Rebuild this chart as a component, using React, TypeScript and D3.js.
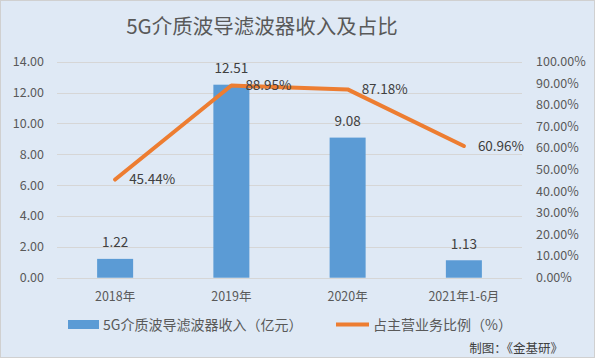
import React from "react";
import * as d3 from "d3";

const categories = ["2018年", "2019年", "2020年", "2021年1-6月"];
const revenue = [1.22, 12.51, 9.08, 1.13];
const share = [45.44, 88.95, 87.18, 60.96];
const leftTicks = [0, 2, 4, 6, 8, 10, 12, 14];
const rightTicks = [0, 10, 20, 30, 40, 50, 60, 70, 80, 90, 100];
const title = "5G介质波导滤波器收入及占比";
const legendBar = "5G介质波导滤波器收入（亿元）";
const legendLine = "占主营业务比例（%）";
const credit = "制图：《金基研》";

const W = 595, H = 358;
const FONT = "'Noto Sans CJK SC', 'Liberation Sans', sans-serif";
const TEXT = "#595959";

export default function App() {
  const x = d3.scaleBand<string>().domain(categories).range([57, 522]).paddingInner(0.69).paddingOuter(0.345);
  const xc = (c: string) => (x(c) as number) + x.bandwidth() / 2;
  const yL = d3.scaleLinear().domain([0, 14]).range([277.7, 61.7]);
  const yR = d3.scaleLinear().domain([0, 100]).range([277.7, 61.7]);
  const line = d3.line<number>().x((_, i) => xc(categories[i])).y((d) => yR(d));
  const bw = 36;

  return (
    <svg width={W} height={H} style={{ position: "fixed", left: 0, top: 0 }} fontFamily={FONT}>
      <rect x={0.5} y={0.5} width={W - 1} height={H - 1} fill="#dfe9f5" stroke="#d0d0d0" />
      <text x={262} y={34} textAnchor="middle" fontSize={20.5} fill={TEXT}>{title}</text>
      {leftTicks.map((t) => (
        <g key={t}>
          <line x1={57} x2={522} y1={Math.round(yL(t)) + 0.5} y2={Math.round(yL(t)) + 0.5} stroke="#d6d6d6" strokeWidth={1} />
          <text x={44} y={yL(t)} dy="0.35em" textAnchor="end" fontSize={12.5} fill={TEXT}>{t.toFixed(2)}</text>
        </g>
      ))}
      {rightTicks.map((t) => (
        <text key={t} x={536} y={yR(t)} dy="0.35em" fontSize={12.5} fill={TEXT}>{t.toFixed(2)}%</text>
      ))}
      {categories.map((c, i) => (
        <g key={c}>
          <rect x={xc(c) - bw / 2} y={yL(revenue[i])} width={bw} height={yL(0) - yL(revenue[i])} fill="#5b9bd5" />
          <text x={xc(c)} y={yL(revenue[i]) - 11.5} textAnchor="middle" fontSize={13.5} fill="#404040">{revenue[i].toFixed(2)}</text>
          <text x={xc(c)} y={301} textAnchor="middle" fontSize={12.5} fill={TEXT}>{c}</text>
        </g>
      ))}
      <path d={line(share) || ""} fill="none" stroke="#ed7d31" strokeWidth={4} strokeLinejoin="round" strokeLinecap="round" />
      {share.map((s, i) => (
        <text key={i} x={xc(categories[i]) + 14} y={yR(s)} dy="0.35em" fontSize={13.5} fill="#404040">{s.toFixed(2)}%</text>
      ))}
      <rect x={68} y={320} width={31} height={9} fill="#5b9bd5" />
      <text x={103} y={329.5} fontSize={14} fill={TEXT}>{legendBar}</text>
      <line x1={336} x2={369} y1={324.5} y2={324.5} stroke="#ed7d31" strokeWidth={4} />
      <text x={373} y={329.5} fontSize={14} fill={TEXT}>{legendLine}</text>
      <text x={563} y={353} textAnchor="end" fontSize={12.5} fill="#404040">{credit}</text>
    </svg>
  );
}
